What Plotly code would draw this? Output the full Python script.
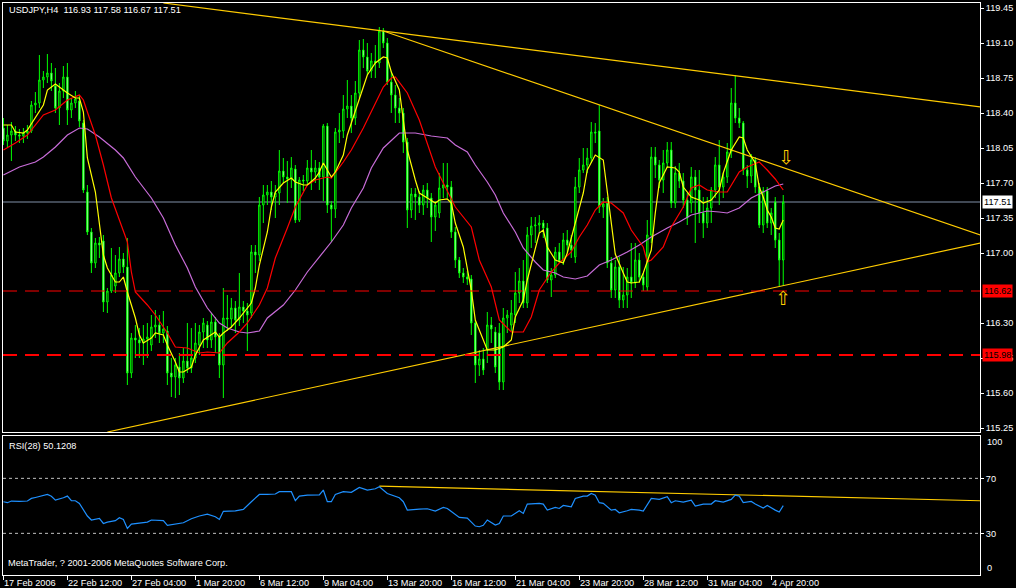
import plotly.graph_objects as go

# ---------------- data ----------------
bar_index = list(range(196))

opens = [
    118.25, 118.12, 118.18, 118.22, 118.18, 118.17, 118.20, 118.22, 118.48, 118.50,
    118.73, 118.76, 118.80, 118.67, 118.45, 118.62, 118.76, 118.43, 118.50, 118.52,
    118.30, 117.61, 117.21, 116.90, 117.10, 117.12, 116.51, 116.62, 116.67, 116.80,
    116.94, 116.86, 115.80, 116.15, 116.13, 116.10, 116.14, 116.08, 116.26, 116.28,
    116.20, 116.22, 115.80, 115.76, 115.86, 115.75, 115.92, 115.85, 115.95, 116.08,
    116.21, 116.28, 116.13, 116.31, 116.16, 115.88, 116.35, 116.34, 116.45, 116.33,
    116.46, 116.42, 116.40, 117.01, 116.98, 117.48, 117.58, 117.61, 117.56, 117.60,
    117.82, 117.76, 117.74, 117.84, 117.33, 117.73, 117.72, 117.85, 117.81, 117.85,
    117.76, 118.27, 117.48, 117.44, 118.21, 118.22, 118.44, 118.47, 118.35, 118.60,
    119.03, 118.96, 118.82, 118.92, 118.90, 119.22, 119.10, 118.71, 118.58, 118.45,
    118.40, 118.11, 117.43, 117.59, 117.56, 117.48, 117.63, 117.55, 117.36, 117.40,
    117.65, 117.68, 117.66, 117.21, 116.93, 116.80, 116.76, 116.74, 116.30, 115.88,
    115.94, 116.03, 116.28, 116.21, 116.20, 115.71, 116.35, 116.28, 116.38, 116.60,
    116.72, 116.50, 117.18, 117.27, 117.28, 117.30, 117.25, 116.73, 116.78, 117.01,
    116.92, 117.13, 117.08, 116.96, 117.66, 117.83, 117.88, 117.95, 118.21, 118.22,
    117.46, 117.50, 116.90, 116.63, 116.86, 116.53, 116.58, 116.76, 116.70, 116.93,
    116.76, 116.66, 117.18, 117.96, 117.88, 117.73, 117.90, 118.03, 117.50, 117.80,
    117.72, 117.53, 117.50, 117.76, 117.63, 117.40, 117.30, 117.45, 117.63, 117.88,
    117.66, 117.76, 118.01, 118.50, 118.35, 118.30, 117.83, 117.77, 117.93, 117.66,
    117.28, 117.62, 117.30, 117.51, 117.13, 116.93,
]

highs = [
    118.35, 118.28, 118.31, 118.27, 118.24, 118.25, 118.28, 118.52, 118.61, 118.98,
    118.82, 118.99, 118.90, 118.85, 118.70, 118.87, 118.90, 118.55, 118.62, 118.58,
    118.33, 117.68, 117.25, 117.15, 117.16, 117.18, 116.65, 117.05, 116.98, 117.06,
    117.00, 117.15, 116.20, 116.28, 116.25, 116.28, 116.30, 116.38, 116.43, 116.38,
    116.42, 116.27, 115.95, 115.95, 116.00, 116.05, 116.30, 116.25, 116.30, 116.28,
    116.35, 116.32, 116.40, 116.36, 116.20, 116.65, 116.58, 116.55, 116.52, 116.80,
    116.52, 116.50, 117.08, 117.08, 117.56, 117.68, 117.68, 117.72, 117.68, 118.03,
    117.95, 117.92, 117.96, 117.88, 117.76, 117.78, 117.93, 118.03, 117.93, 117.91,
    118.29, 118.30, 117.52, 118.25, 118.40, 118.58, 118.73, 118.58, 118.72, 119.13,
    119.14, 119.10, 119.00, 119.08, 119.26, 119.25, 119.15, 118.82, 118.68, 118.55,
    118.45, 118.15, 117.65, 117.65, 117.62, 117.68, 117.70, 117.60, 117.52, 117.80,
    117.90, 117.90, 117.72, 117.26, 116.96, 116.85, 116.82, 116.78, 116.33, 116.03,
    116.05, 116.41, 116.36, 116.26, 116.30, 116.45, 116.43, 116.53, 116.81, 116.85,
    116.93, 117.26, 117.36, 117.36, 117.38, 117.33, 117.30, 116.85, 117.06, 117.10,
    117.20, 117.23, 117.18, 117.76, 117.95, 118.05, 118.05, 118.31, 118.30, 118.48,
    117.55, 117.56, 116.96, 116.93, 116.96, 116.86, 116.85, 117.10, 117.10, 117.00,
    116.80, 117.33, 118.06, 118.06, 117.93, 118.03, 118.11, 118.11, 117.87, 117.90,
    117.80, 117.60, 117.86, 117.83, 117.83, 117.56, 117.56, 117.66, 117.96, 118.13,
    117.80, 118.10, 118.65, 118.78, 118.45, 118.32, 117.88, 117.99, 117.96, 117.70,
    117.66, 117.66, 117.45, 117.56, 117.20, 117.58,
]

lows = [
    118.08, 118.05, 117.92, 118.12, 118.10, 118.10, 118.14, 118.20, 118.40, 118.45,
    118.65, 118.70, 118.62, 118.40, 118.28, 118.55, 118.28, 118.35, 118.45, 118.26,
    117.60, 117.18, 116.80, 116.85, 116.95, 116.41, 116.40, 116.60, 116.60, 116.76,
    116.80, 115.68, 115.75, 115.95, 115.95, 115.88, 115.95, 116.02, 116.15, 116.10,
    116.10, 115.68, 115.56, 115.55, 115.58, 115.70, 115.80, 115.80, 115.90, 115.98,
    116.05, 116.05, 116.05, 116.00, 115.75, 115.55, 116.22, 116.25, 116.20, 116.27,
    116.30, 116.02, 116.35, 116.80, 116.92, 117.30, 117.48, 117.43, 117.35, 117.48,
    117.70, 117.50, 117.65, 117.30, 117.31, 117.62, 117.68, 117.63, 117.70, 117.63,
    117.52, 117.40, 117.11, 117.35, 118.10, 118.15, 118.35, 118.20, 118.28, 118.55,
    118.85, 118.78, 118.75, 118.75, 118.85, 119.05, 118.68, 118.40, 118.30, 118.30,
    118.00, 117.25, 117.35, 117.33, 117.40, 117.38, 117.45, 117.11, 117.22, 117.35,
    117.55, 117.55, 117.15, 116.85, 116.75, 116.70, 116.68, 116.18, 115.70, 115.77,
    115.78, 115.90, 116.10, 115.80, 115.63, 115.63, 116.20, 116.22, 116.30, 116.50,
    116.45, 116.45, 117.05, 117.10, 117.20, 117.15, 116.70, 116.56, 116.75, 116.90,
    116.88, 117.00, 116.95, 116.90, 117.60, 117.80, 117.80, 117.90, 118.10, 117.40,
    117.35, 116.85, 116.55, 116.55, 116.45, 116.45, 116.45, 116.55, 116.65, 116.70,
    116.62, 116.62, 117.10, 117.75, 117.65, 117.60, 117.85, 117.45, 117.45, 117.65,
    117.45, 117.28, 117.40, 117.10, 117.30, 117.15, 117.25, 117.30, 117.55, 117.48,
    117.55, 117.70, 117.95, 118.30, 118.25, 117.78, 117.65, 117.70, 117.60, 117.25,
    117.20, 117.25, 117.18, 117.05, 116.67, 116.67,
]

closes = [
    118.12, 118.18, 118.22, 118.18, 118.17, 118.20, 118.22, 118.48, 118.50, 118.73,
    118.76, 118.80, 118.72, 118.45, 118.62, 118.76, 118.43, 118.50, 118.54, 118.32,
    117.63, 117.21, 116.90, 117.10, 117.08, 116.51, 116.62, 116.78, 116.80, 116.94,
    116.86, 115.80, 116.15, 116.13, 116.10, 116.14, 116.16, 116.26, 116.28, 116.20,
    116.24, 115.80, 115.76, 115.88, 115.75, 115.92, 115.85, 115.95, 116.10, 116.21,
    116.30, 116.13, 116.31, 116.16, 115.88, 116.35, 116.34, 116.45, 116.33, 116.46,
    116.42, 116.38, 117.01, 116.98, 117.48, 117.58, 117.61, 117.56, 117.60, 117.82,
    117.76, 117.74, 117.85, 117.33, 117.73, 117.72, 117.85, 117.81, 117.85, 117.76,
    118.27, 117.48, 117.44, 118.21, 118.23, 118.44, 118.47, 118.35, 118.60, 119.03,
    118.96, 118.82, 118.92, 118.90, 119.22, 119.10, 118.71, 118.58, 118.45, 118.40,
    118.11, 117.43, 117.59, 117.56, 117.48, 117.63, 117.55, 117.36, 117.48, 117.65,
    117.68, 117.66, 117.21, 116.93, 116.80, 116.76, 116.74, 116.30, 115.88, 115.94,
    115.83, 116.28, 116.24, 115.86, 115.71, 116.35, 116.38, 116.40, 116.60, 116.72,
    116.50, 117.18, 117.27, 117.28, 117.30, 117.25, 116.73, 116.78, 117.01, 116.92,
    117.13, 117.08, 117.03, 117.66, 117.83, 117.88, 117.95, 118.21, 118.20, 117.46,
    117.49, 116.90, 116.63, 116.86, 116.53, 116.58, 116.76, 116.70, 116.93, 116.76,
    116.68, 117.18, 117.96, 117.88, 117.73, 117.90, 118.03, 117.50, 117.80, 117.72,
    117.53, 117.35, 117.76, 117.63, 117.40, 117.30, 117.45, 117.63, 117.88, 117.66,
    117.76, 118.01, 118.50, 118.35, 118.30, 117.83, 117.77, 117.93, 117.66, 117.28,
    117.62, 117.30, 117.40, 117.13, 116.93, 117.51,
]

# moving averages: (bar, price)
ma_fast = [
    (0, 118.28), (2, 118.28), (3, 118.21), (5, 118.20), (6, 118.23), (8, 118.35), (10, 118.48),
    (11, 118.63), (13, 118.69), (14, 118.66), (16, 118.60), (18, 118.55), (19, 118.55), (20, 118.41),
    (21, 117.95), (23, 117.61), (24, 117.31), (25, 116.98), (26, 116.85), (28, 116.71), (29, 116.71),
    (30, 116.76), (31, 116.61), (33, 116.35), (34, 116.18), (35, 116.10), (37, 116.15), (38, 116.20),
    (40, 116.18), (41, 116.08), (43, 115.91), (44, 115.81), (45, 115.81), (47, 115.86), (48, 115.98),
    (50, 116.13), (53, 116.21), (54, 116.16), (55, 116.20), (57, 116.26), (59, 116.35), (60, 116.40),
    (62, 116.50), (63, 116.65), (64, 116.88), (66, 117.21), (67, 117.46), (68, 117.61), (70, 117.70),
    (72, 117.75), (73, 117.71), (75, 117.68), (76, 117.68), (78, 117.75), (79, 117.81), (80, 117.90),
    (82, 117.76), (83, 117.81), (85, 117.98), (86, 118.18), (88, 118.41), (90, 118.66), (91, 118.78),
    (93, 118.90), (95, 118.96), (96, 118.95), (97, 118.81), (99, 118.63), (100, 118.33), (101, 118.03),
    (103, 117.73), (104, 117.60), (106, 117.55), (108, 117.50), (109, 117.53), (111, 117.54),
    (112, 117.50), (113, 117.30), (115, 117.06), (116, 116.86), (117, 116.63), (118, 116.33),
    (120, 116.13), (121, 116.03), (122, 116.03), (123, 116.03), (125, 116.06), (127, 116.13),
    (128, 116.36), (130, 116.53), (131, 116.73), (133, 117.06), (134, 117.20), (135, 117.23),
    (136, 117.06), (138, 116.93), (140, 116.90), (141, 117.00), (143, 117.30), (145, 117.60),
    (146, 117.83), (148, 117.98), (150, 117.93), (151, 117.61), (152, 117.26), (153, 116.99),
    (155, 116.80), (156, 116.71), (157, 116.70), (159, 116.71), (160, 116.80), (162, 117.03),
    (163, 117.40), (164, 117.70), (166, 117.86), (168, 117.85), (169, 117.81), (170, 117.66),
    (172, 117.56), (174, 117.53), (175, 117.50), (177, 117.53), (179, 117.63), (180, 117.80),
    (182, 118.03), (184, 118.16), (185, 118.15), (186, 118.03), (188, 117.90), (189, 117.66),
    (190, 117.56), (191, 117.43), (192, 117.36), (193, 117.25), (194, 117.24), (195, 117.33),
]

ma_mid = [
    (0, 118.03), (3, 118.10), (6, 118.18), (10, 118.38), (13, 118.43), (16, 118.53), (19, 118.58),
    (20, 118.53), (21, 118.41), (23, 118.18), (25, 117.88), (27, 117.55), (29, 117.33), (31, 117.11),
    (32, 116.81), (33, 116.61), (36, 116.48), (38, 116.38), (41, 116.20), (43, 116.06), (46, 116.05),
    (49, 116.00), (51, 116.01), (54, 116.00), (56, 116.10), (59, 116.21), (61, 116.30), (64, 116.48),
    (66, 116.65), (68, 116.95), (71, 117.25), (73, 117.46), (76, 117.68), (78, 117.73), (81, 117.76),
    (82, 117.75), (85, 117.91), (87, 118.03), (90, 118.25), (92, 118.41), (95, 118.66), (97, 118.75),
    (98, 118.76), (101, 118.60), (104, 118.33), (108, 117.86), (110, 117.70), (113, 117.46),
    (117, 117.26), (119, 116.93), (122, 116.66), (124, 116.33), (127, 116.21), (130, 116.21),
    (132, 116.36), (134, 116.63), (137, 116.81), (139, 116.90), (142, 117.01), (144, 117.16),
    (146, 117.28), (148, 117.43), (150, 117.51), (152, 117.50), (155, 117.40), (157, 117.23),
    (160, 117.06), (161, 116.91), (162, 116.93), (165, 117.06), (167, 117.26), (170, 117.46),
    (172, 117.65), (174, 117.68), (176, 117.63), (179, 117.61), (181, 117.61), (184, 117.81),
    (186, 117.86), (189, 117.91), (191, 117.83), (193, 117.74), (195, 117.63),
]

ma_slow = [
    (0, 117.78), (4, 117.86), (8, 117.91), (10, 117.96), (13, 118.06), (16, 118.18), (19, 118.25),
    (21, 118.24), (24, 118.16), (28, 118.03), (30, 117.95), (33, 117.76), (37, 117.55), (40, 117.35),
    (43, 117.08), (46, 116.85), (48, 116.66), (51, 116.45), (54, 116.30), (56, 116.25), (59, 116.21),
    (61, 116.20), (64, 116.22), (66, 116.35), (70, 116.48), (73, 116.63), (76, 116.81), (80, 117.01),
    (82, 117.11), (85, 117.28), (87, 117.45), (90, 117.65), (92, 117.85), (95, 118.05), (97, 118.13),
    (99, 118.20), (103, 118.20), (107, 118.17), (111, 118.15), (113, 118.08), (116, 118.01),
    (118, 117.88), (121, 117.71), (123, 117.58), (125, 117.40), (128, 117.21), (130, 117.05),
    (133, 116.91), (135, 116.83), (138, 116.80), (140, 116.76), (143, 116.74), (146, 116.77),
    (149, 116.88), (152, 116.93), (156, 117.01), (159, 117.08), (162, 117.16), (166, 117.25),
    (169, 117.31), (172, 117.38), (176, 117.42), (179, 117.41), (181, 117.40), (184, 117.45),
    (187, 117.55), (191, 117.63), (193, 117.67), (195, 117.69),
]

rsi_points = [
    (0, 53.0), (1, 52.3), (2, 53.5), (4, 53.2), (6, 53.5), (7, 55.4), (8, 56.1), (10, 57.6),
    (11, 58.3), (12, 57.0), (13, 54.2), (15, 55.9), (16, 57.1), (17, 53.7), (18, 53.7), (19, 51.8),
    (20, 46.9), (21, 42.6), (22, 39.7), (23, 40.1), (24, 40.9), (25, 37.2), (26, 38.2), (28, 39.2),
    (29, 41.3), (30, 40.1), (31, 33.6), (32, 36.7), (34, 37.7), (36, 38.2), (37, 39.7), (40, 39.2),
    (41, 35.8), (43, 36.7), (45, 37.7), (47, 40.6), (49, 42.6), (51, 44.0), (53, 42.1), (54, 40.1),
    (55, 46.0), (58, 46.4), (60, 47.4), (62, 53.0), (64, 58.3), (66, 58.3), (68, 58.6), (69, 60.3),
    (72, 60.3), (73, 53.7), (74, 57.1), (76, 57.8), (78, 58.1), (79, 58.0), (80, 61.5), (81, 53.0),
    (82, 53.0), (83, 58.3), (85, 60.3), (87, 59.8), (89, 63.4), (91, 61.5), (93, 62.4), (94, 63.9),
    (96, 59.0), (99, 55.9), (100, 53.0), (101, 46.9), (104, 47.6), (106, 47.9), (108, 46.2),
    (110, 48.9), (111, 48.1), (113, 44.0), (114, 41.6), (116, 41.1), (118, 35.3), (119, 34.8),
    (120, 35.8), (121, 39.7), (123, 36.0), (124, 37.2), (125, 42.6), (127, 42.6), (129, 46.4),
    (130, 44.5), (131, 51.3), (134, 51.8), (135, 51.3), (136, 46.9), (138, 48.9), (139, 48.1),
    (140, 50.3), (141, 49.8), (142, 49.3), (143, 55.4), (145, 57.1), (146, 57.1), (147, 59.0),
    (148, 57.8), (149, 52.3), (150, 51.8), (152, 46.9), (153, 47.4), (154, 45.0), (156, 46.4),
    (157, 47.4), (159, 46.9), (160, 46.2), (162, 55.4), (163, 55.2), (164, 54.7), (166, 56.6),
    (167, 52.3), (168, 53.7), (170, 52.7), (172, 54.2), (173, 49.8), (175, 51.3), (177, 51.3),
    (178, 53.7), (180, 52.7), (182, 54.7), (183, 57.8), (184, 57.1), (185, 52.3), (187, 53.2),
    (188, 51.3), (190, 48.4), (191, 50.3), (193, 46.9), (194, 45.5), (195, 50.12),
]

# hand-drawn trend lines: (bar, value) end points
upper_trend = [(40, 119.50), (244.25, 118.46)]
mid_trend = [(95, 119.22), (244.25, 117.18)]
lower_trend = [(26, 115.21), (244.25, 117.10)]
rsi_trend = [(94, 64.3), (244.25, 53.7)]

# 116.65 is fully hidden behind the 116.62 level box in the original
price_ticks = [115.25, 115.60, 115.95, 116.30, 117.00, 117.35,
               117.70, 118.05, 118.40, 118.75, 119.10, 119.45]
rsi_ticks = [30, 70]
rsi_levels = [70, 30]
date_tick_bars = [0, 16, 32, 48, 64, 80, 96, 112, 128, 144, 160, 176, 192]
date_tick_labels = ["17 Feb 2006", "22 Feb 12:00", "27 Feb 04:00", "1 Mar 20:00",
                    "6 Mar 12:00", "9 Mar 04:00", "13 Mar 20:00", "16 Mar 12:00",
                    "21 Mar 04:00", "23 Mar 20:00", "28 Mar 12:00", "31 Mar 04:00",
                    "4 Apr 20:00"]
bid_price = 117.51
level_high = 116.62
level_low = 115.98
header_text = "USDJPY,H4\u00a0\u00a0116.93 117.58 116.67 117.51"
rsi_text = "RSI(28) 50.1208"
copyright_text = "MetaTrader, ? 2001-2006 MetaQuotes Software Corp."

# ---------------- styling ----------------
FONT = "Liberation Sans, Arial, sans-serif"
LIME = "#00FF00"
GOLD = "#FFCC00"
FS = 9.2

fig = go.Figure()

for pts in (upper_trend, mid_trend, lower_trend):
    fig.add_trace(go.Scatter(x=[p[0] for p in pts], y=[p[1] for p in pts], mode="lines",
                             line=dict(color=GOLD, width=1.2), xaxis="x", yaxis="y",
                             hoverinfo="skip", showlegend=False))

fig.add_trace(go.Candlestick(
    x=bar_index, open=opens, high=highs, low=lows, close=closes,
    increasing=dict(line=dict(color=LIME, width=1), fillcolor="#000000"),
    decreasing=dict(line=dict(color=LIME, width=1), fillcolor="#FFFFFF"),
    whiskerwidth=0, xaxis="x", yaxis="y", hoverinfo="skip", showlegend=False))

for pts, col in ((ma_slow, "#C86CD8"), (ma_mid, "#FF0000"), (ma_fast, "#FFFF00")):
    fig.add_trace(go.Scatter(x=[p[0] for p in pts], y=[p[1] for p in pts], mode="lines",
                             line=dict(color=col, width=1.2), xaxis="x", yaxis="y",
                             hoverinfo="skip", showlegend=False))

fig.add_trace(go.Scatter(x=[p[0] for p in rsi_trend], y=[p[1] for p in rsi_trend], mode="lines",
                         line=dict(color=GOLD, width=1.2), xaxis="x2", yaxis="y2",
                         hoverinfo="skip", showlegend=False))
fig.add_trace(go.Scatter(x=[p[0] for p in rsi_points], y=[p[1] for p in rsi_points], mode="lines",
                         line=dict(color="#1E90FF", width=1.2), xaxis="x2", yaxis="y2",
                         hoverinfo="skip", showlegend=False))

shapes = [
    dict(type="line", xref="x domain", yref="y", x0=0, x1=1, y0=bid_price, y1=bid_price,
         line=dict(color="#8090A8", width=1), layer="below"),
    dict(type="line", xref="x domain", yref="y", x0=0, x1=1, y0=level_high, y1=level_high,
         line=dict(color="#FF0000", width=1, dash="14px,8px"), layer="above"),
    dict(type="line", xref="x domain", yref="y", x0=0, x1=1, y0=level_low, y1=level_low,
         line=dict(color="#FF0000", width=2, dash="14px,8px"), layer="above"),
]
for lv in rsi_levels:
    shapes.append(dict(type="line", xref="x2 domain", yref="y2", x0=0, x1=1, y0=lv, y1=lv,
                       line=dict(color="#C0C0C0", width=1, dash="3px,3px"), layer="below"))

annotations = [
    dict(text=header_text, xref="paper", yref="paper", x=0.004, y=0.988, xanchor="left",
         yanchor="middle", showarrow=False, font=dict(family=FONT, size=FS, color="white")),
    dict(text=rsi_text, xref="paper", yref="paper", x=0.004, y=0.2255, xanchor="left",
         yanchor="middle", showarrow=False, font=dict(family=FONT, size=FS, color="white")),
    dict(text=copyright_text, xref="paper", yref="paper", x=0.003, y=0.021, xanchor="left",
         yanchor="middle", showarrow=False, font=dict(family=FONT, size=FS, color="white")),
    dict(text=f"{bid_price:.2f}", xref="paper", yref="y", x=1, y=bid_price, xanchor="left",
         yanchor="middle", xshift=2, showarrow=False, bgcolor="white", borderpad=1,
         font=dict(family=FONT, size=FS, color="black")),
    dict(text=f"{level_high:.2f}", xref="paper", yref="y", x=1, y=level_high, xanchor="left",
         yanchor="middle", xshift=2, showarrow=False, bgcolor="#FF0000", borderpad=1,
         font=dict(family=FONT, size=FS, color="black")),
    dict(text=f"{level_low:.2f}", xref="paper", yref="y", x=1, y=level_low, xanchor="left",
         yanchor="middle", xshift=2, showarrow=False, bgcolor="#FF0000", borderpad=1,
         font=dict(family=FONT, size=FS, color="black")),
    dict(text="100", xref="paper", yref="paper", x=1, y=0.2325, xanchor="left", yanchor="middle",
         xshift=5, showarrow=False, font=dict(family=FONT, size=FS, color="white")),
    dict(text="0", xref="paper", yref="paper", x=1, y=0.0122, xanchor="left", yanchor="middle",
         xshift=5, showarrow=False, font=dict(family=FONT, size=FS, color="white")),
    dict(text="\u21e9", xref="x", yref="y", x=195.7, y=117.96, showarrow=False,
         font=dict(family="DejaVu Sans", size=19, color=GOLD)),
    dict(text="\u21e7", xref="x", yref="y", x=194.9, y=116.55, showarrow=False,
         font=dict(family="DejaVu Sans", size=19, color=GOLD)),
]
for b, lab in zip(date_tick_bars, date_tick_labels):
    annotations.append(dict(text=lab, xref="x2", yref="paper", x=b, y=-0.0135, xanchor="left",
                            yanchor="middle", xshift=-1, showarrow=False,
                            font=dict(family=FONT, size=FS, color="white")))

axis_common = dict(showgrid=False, zeroline=False, showline=True, linecolor="white",
                   linewidth=1, mirror=True)

fig.update_layout(
    width=1016, height=588,
    margin=dict(l=3, r=36, t=3, b=13),
    paper_bgcolor="black", plot_bgcolor="black",
    boxgap=0.5, showlegend=False,
    font=dict(family=FONT, size=FS, color="white"),
    xaxis=dict(domain=[0, 1], anchor="y", range=[-0.1, 244.2], showticklabels=False,
               ticks="", rangeslider=dict(visible=False), **axis_common),
    yaxis=dict(domain=[0.25, 1], anchor="x", side="right", range=[115.21, 119.50],
               tickvals=price_ticks, ticktext=[f"{v:.2f}" for v in price_ticks],
               ticks="outside", ticklen=3, tickcolor="white",
               tickfont=dict(family=FONT, size=FS, color="white"), **axis_common),
    xaxis2=dict(domain=[0, 1], anchor="y2", range=[-0.1, 244.2], tickvals=date_tick_bars,
                showticklabels=False, ticks="outside", ticklen=4, tickcolor="white",
                rangeslider=dict(visible=False), **axis_common),
    yaxis2=dict(domain=[0, 0.243], anchor="x2", side="right", range=[-0.3, 100.8],
                tickvals=rsi_ticks, ticktext=[str(v) for v in rsi_ticks],
                ticks="outside", ticklen=3, tickcolor="white",
                tickfont=dict(family=FONT, size=FS, color="white"), **axis_common),
    shapes=shapes,
    annotations=annotations,
)

fig.write_html("out.html", config={"displayModeBar": False}, post_script=(
    "document.body.style.margin='0';document.body.style.padding='0';"
    "document.body.style.overflow='hidden';document.body.style.background='black';"))
